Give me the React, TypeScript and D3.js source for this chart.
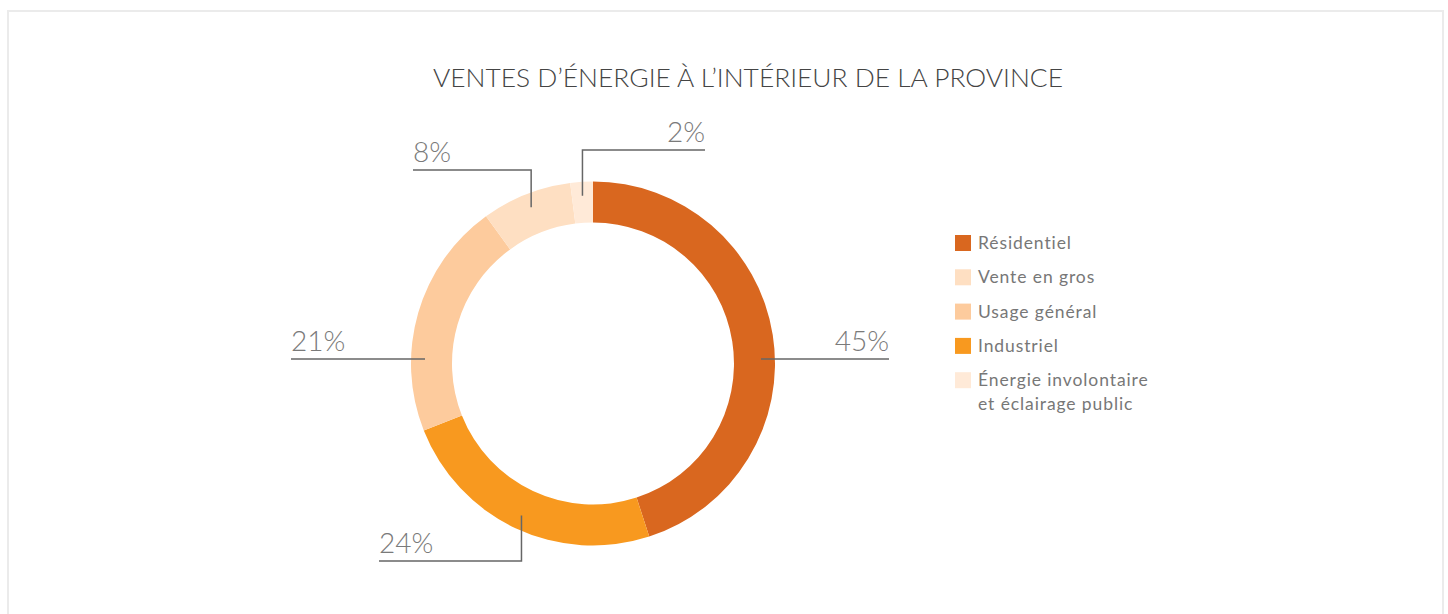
import React from "react";
import * as d3 from "d3";

const title = "VENTES D\u2019ÉNERGIE À L\u2019INTÉRIEUR DE LA PROVINCE";
// pie order (clockwise from 12 o'clock)
const sliceNames = ["Résidentiel", "Industriel", "Usage général", "Vente en gros", "Énergie involontaire et éclairage public"];
const sliceValues = [45, 24, 21, 8, 2];
const sliceColors = ["#D9671F", "#F8991F", "#FDCB9D", "#FEDFC2", "#FFEAD8"];
// legend order
const legendItems = [
  ["Résidentiel"],
  ["Vente en gros"],
  ["Usage général"],
  ["Industriel"],
  ["Énergie involontaire", "et éclairage public"],
];
const legendColorIndex = [0, 3, 2, 1, 4];

// label leader layout: horizontal = straight line at centre height, else elbow
const labelLayout = [
  { horizontal: true, elbowY: 0, endX: 296 },
  { horizontal: false, elbowY: 197.5, endX: -214 },
  { horizontal: true, elbowY: 0, endX: -302 },
  { horizontal: false, elbowY: -193.5, endX: -180 },
  { horizontal: false, elbowY: -213.5, endX: 112 },
];

const W = 1448;
const H = 614;
const cx = 593;
const cy = 363.5;
const rOuter = 182;
const rInner = 141;
const rAnchor = 168;
const font = "Lato, 'Open Sans', sans-serif";

export default function App() {
  const pie = d3.pie<number>().sort(null).value((d) => d)(sliceValues);
  const arc = d3.arc<d3.PieArcDatum<number>>().innerRadius(rInner).outerRadius(rOuter);

  return (
    <svg width={W} height={H} style={{ position: "absolute", left: 0, top: 0, background: "#fff" }}>
      <rect x={8} y={11} width={1435} height={H + 10} fill="none" stroke="#EBEBEB" strokeWidth={2} />
      <text x={748} y={87} textAnchor="middle" fontFamily={font} fontSize={25.5} fontWeight={300} fill="#444" textLength={630} lengthAdjust="spacingAndGlyphs">
        {title}
      </text>
      <g transform={`translate(${cx},${cy})`}>
        {pie.map((p, i) => (
          <path key={i} d={arc(p) || ""} fill={sliceColors[i]} />
        ))}
        {pie.map((p, i) => {
          const lay = labelLayout[i];
          const mid = (p.startAngle + p.endAngle) / 2;
          const ax = rAnchor * Math.sin(mid);
          const ay = -rAnchor * Math.cos(mid);
          let pts: [number, number][];
          let ly: number;
          if (lay.horizontal) {
            ly = -4.5;
            const sx = Math.sign(lay.endX) * rAnchor;
            pts = [[sx, ly], [lay.endX, ly]];
          } else {
            ly = lay.elbowY;
            pts = [[ax, ay], [ax, ly], [lay.endX, ly]];
          }
          const right = lay.endX > 0;
          return (
            <g key={"l" + i}>
              <polyline points={pts.map((q) => q.join(",")).join(" ")} fill="none" stroke="#666" strokeWidth={1.5} />
              <text x={lay.endX} y={ly - 8} textAnchor={right ? "end" : "start"} fontFamily={font} fontSize={28} fontWeight={300} fill="#7a7a7a">
                {`${sliceValues[i]}%`}
              </text>
            </g>
          );
        })}
      </g>
      <g>
        {legendItems.map((lines, i) => {
          const y0 = 235 + i * 34.3;
          return (
            <g key={"g" + i}>
              <rect x={955} y={y0} width={16} height={16} fill={sliceColors[legendColorIndex[i]]} />
              {lines.map((t, j) => (
                <text key={j} x={978} y={y0 + 14 + j * 24} fontFamily={font} fontSize={17.5} fill="#777" letterSpacing={0.9}>
                  {t}
                </text>
              ))}
            </g>
          );
        })}
      </g>
    </svg>
  );
}
